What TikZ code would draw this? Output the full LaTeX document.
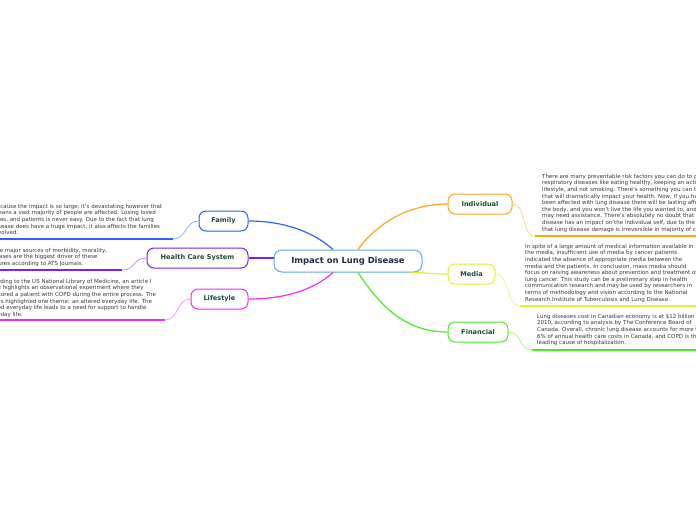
\documentclass[tikz,border=0pt]{standalone}
\usepackage{fontspec}
\setmainfont{DejaVu Sans}
\definecolor{famblue}{HTML}{2F5FFF}
\definecolor{hcspurple}{HTML}{7A1FFF}
\definecolor{lifmag}{HTML}{F52BF0}
\definecolor{indorange}{HTML}{FFA31A}
\definecolor{medyellow}{HTML}{D8F52A}
\definecolor{fingreen}{HTML}{44EE22}
\definecolor{mainblue}{HTML}{5FA8DC}
\definecolor{topictext}{HTML}{1D4A3B}
\definecolor{maintext}{HTML}{1C2B4A}
\definecolor{notetext}{HTML}{383838}
\begin{document}
\begin{tikzpicture}[x=1pt,y=-1pt]
			\useasboundingbox (0,0) rectangle (696,520);
			\tikzstyle{topic}=[draw, fill=white, rounded corners=7pt, line width=1pt, minimum height=20pt, inner sep=0pt, text=topictext, font=\fontsize{6.6}{7}\selectfont\bfseries]
			\tikzstyle{note}=[anchor=north west, align=left, inner sep=0pt, text=notetext, font=\fontsize{5.5}{6.6}\selectfont]
			\tikzstyle{link}=[line width=1.2pt]
			\tikzstyle{twig}=[line width=0.7pt]
			\tikzstyle{under}=[line width=1.3pt]
			\node[draw=mainblue, fill=white, rounded corners=8pt, line width=1pt, minimum width=148pt, minimum height=22pt, text=maintext, font=\fontsize{8.4}{9}\selectfont\bfseries] (main) at (348,261) {Impact on Lung Disease};
			\node[topic, draw=famblue, minimum width=49pt] (fam) at (223.5,221) {Family};
			\node[topic, draw=hcspurple, minimum width=101pt] (hcs) at (197.5,258) {Health Care System};
			\node[topic, draw=lifmag, minimum width=57pt] (lif) at (219.5,299) {Lifestyle};
			\node[topic, draw=indorange, minimum width=64pt] (ind) at (480,204) {Individual};
			\node[topic, draw=medyellow, minimum width=47pt] (med) at (471.5,274) {Media};
			\node[topic, draw=fingreen, minimum width=60pt] (fin) at (478,332) {Financial};
			\draw[link, famblue] ([xshift=-15pt]main.north) .. controls +(-20,-18) and +(35,0) .. (fam.east);
			\draw[link, hcspurple] (hcs.east) -- (hcs.east -| main.west);
			\draw[link, lifmag] ([xshift=-15pt]main.south) .. controls +(-20,18) and +(35,0) .. (lif.east);
			\draw[link, indorange] ([xshift=10pt]main.north) .. controls +(18,-25) and +(-40,0) .. (ind.west);
			\draw[link, medyellow] ([xshift=-12pt]main.south east) .. controls +(15,0) and +(-15,0) .. (med.west);
			\draw[link, fingreen] ([xshift=10pt]main.south) .. controls +(20,30) and +(-45,0) .. (fin.west);
			\coordinate (famU) at (173,239);
			\coordinate (famE) at (-10,239);
			\coordinate (hcsU) at (122,270);
			\coordinate (hcsE) at (-10,270);
			\coordinate (lifU) at (165,320);
			\coordinate (lifE) at (-10,320);
			\coordinate (indU) at (535,236);
			\coordinate (indE) at (700,236);
			\coordinate (medU) at (520,306);
			\coordinate (medE) at (700,306);
			\coordinate (finU) at (532,350);
			\coordinate (finE) at (700,350);
			\draw[twig, famblue!55] (fam.west) .. controls +(-14,0) and +(14,0) .. (famU);
			\draw[twig, hcspurple!55] (hcs.west) .. controls +(-14,0) and +(14,0) .. (hcsU);
			\draw[twig, lifmag!55] (lif.west) .. controls +(-14,0) and +(14,0) .. (lifU);
			\draw[twig, indorange!55] (ind.east) .. controls +(14,0) and +(-14,0) .. (indU);
			\draw[twig, medyellow!70] (med.east) .. controls +(14,0) and +(-14,0) .. (medU);
			\draw[twig, fingreen!55] (fin.east) .. controls +(14,0) and +(-14,0) .. (finU);
			\draw[under, famblue] (famE) -- (famU);
			\draw[under, hcspurple] (hcsE) -- (hcsU);
			\draw[under, lifmag] (lifE) -- (lifU);
			\draw[under, indorange] (indU) -- (indE);
			\draw[under, medyellow] (medU) -- (medE);
			\draw[under, fingreen] (finU) -- (finE);
			\node[note] (famtxt) at (-7,204) {Because the impact is so large, it's devastating however that\\means a vast majority of people are affected. Losing loved\\ones, and patients is never easy. Due to the fact that lung\\disease does have a huge impact, it also affects the families\\involved.};
			\node[note] (hcstxt) at (-26,248) {One of the major sources of morbidity, morality,\\lung diseases are the biggest driver of these\\expenditures according to ATS Journals.};
			\node[note] (liftxt) at (-15,279) {According to the US National Library of Medicine, an article I\\found highlights an observational experiment where they\\monitored a patient with COPD during the entire process. The\\results highlighted one theme: an altered everyday life. The\\altered everyday life leads to a need for support to handle\\everyday life.};
			\node[note] (indtxt) at (542,174) {There are many preventable risk factors you can do to prevent\\respiratory diseases like eating healthy, keeping an active\\lifestyle, and not smoking. There's something you can take\\that will dramatically impact your health. Now, if you have\\been affected with lung disease there will be lasting affects on\\the body, and you won't live the life you wanted to, and you\\may need assistance. There's absolutely no doubt that lung\\disease has an impact on the individual self, due to the fact\\that lung disease damage is irreversible in majority of cases.};
			\node[note] (medtxt) at (525,244) {In spite of a large amount of medical information available in\\the media, insufficient use of media by cancer patients\\indicated the absence of appropriate media between the\\media and the patients. In conclusion, mass media should\\focus on raising awareness about prevention and treatment of\\lung cancer. This study can be a preliminary step in health\\communication research and may be used by researchers in\\terms of methodology and vision according to the National\\Research Institute of Tuberculosis and Lung Disease.};
			\node[note] (fintxt) at (537,314) {Lung diseases cost in Canadian economy is at \$12 billion in\\2010, according to analysis by The Conference Board of\\Canada. Overall, chronic lung disease accounts for more than\\6\% of annual health care costs in Canada, and COPD is the\\leading cause of hospitalization.};
		\end{tikzpicture}
\end{document}
